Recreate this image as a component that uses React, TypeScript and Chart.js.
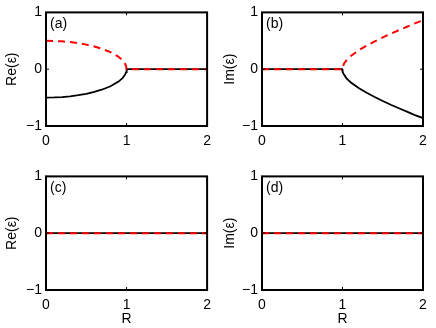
import React, { useEffect, useRef } from 'react';
import { Chart, registerables } from 'chart.js';

Chart.register(...registerables);
Chart.defaults.font.family = '"Liberation Sans", Arial, Helvetica, sans-serif';
Chart.defaults.color = '#000';

// R values below and above the exceptional point R = 1
const rLow = [0, 0.1, 0.2, 0.3, 0.4, 0.5, 0.6, 0.7, 0.8, 0.9, 0.95, 0.98, 0.995, 1.0];
const rHigh = [1.0, 1.005, 1.02, 1.05, 1.1, 1.2, 1.3, 1.4, 1.5, 1.6, 1.7, 1.8, 1.9, 2.0];
const rFlat = [0, 2];

// (a) Re(eps): branches below R = 1, zero above
const reBlackLow = [-0.5, -0.497, -0.49, -0.477, -0.458, -0.433, -0.4, -0.357, -0.3, -0.218, -0.156, -0.1, -0.05, 0];
const reRedLow = [0.5, 0.497, 0.49, 0.477, 0.458, 0.433, 0.4, 0.357, 0.3, 0.218, 0.156, 0.1, 0.05, 0];
const reHighZero = [0, 0, 0, 0, 0, 0, 0, 0, 0, 0, 0, 0, 0, 0];

// (b) Im(eps): zero below R = 1, branches above
const imLowZero = [0, 0, 0, 0, 0, 0, 0, 0, 0, 0, 0, 0, 0, 0];
const imBlackHigh = [0, -0.05, -0.1, -0.16, -0.229, -0.332, -0.415, -0.49, -0.559, -0.625, -0.687, -0.748, -0.808, -0.86];
const imRedHigh = [0, 0.05, 0.1, 0.16, 0.229, 0.332, 0.415, 0.49, 0.559, 0.625, 0.687, 0.748, 0.808, 0.86];

// (c), (d): flat zero lines
const flatBlack = [0, 0];
const flatRed = [0, 0];

const xTicks = [0, 1, 2];
const yTicks = [-1, 0, 1];
const yTickLabels = ['\u22121', '0', '1'];

const pts = (xs: number[], ys: number[]) => xs.map((x, i) => ({ x, y: ys[i] }));

const framePlugin = {
  id: 'frame',
  afterDatasetsDraw(chart: any, _args: any, opts: any) {
    const { ctx, chartArea } = chart;
    const { left, right, top, bottom } = chartArea;
    const xs = chart.scales.x;
    const ys = chart.scales.y;
    ctx.save();
    ctx.strokeStyle = '#000';
    ctx.lineWidth = 2;
    ctx.strokeRect(left, top, right - left, bottom - top);
    ctx.lineWidth = 1;
    const tl = 3;
    ctx.beginPath();
    for (const v of xTicks) {
      const p = xs.getPixelForValue(v);
      ctx.moveTo(p, bottom);
      ctx.lineTo(p, bottom - tl);
      ctx.moveTo(p, top);
      ctx.lineTo(p, top + tl);
    }
    for (const v of yTicks) {
      const p = ys.getPixelForValue(v);
      ctx.moveTo(left, p);
      ctx.lineTo(left + tl, p);
      ctx.moveTo(right, p);
      ctx.lineTo(right - tl, p);
    }
    ctx.stroke();
    ctx.fillStyle = '#000';
    ctx.font = '14px "Liberation Sans", Arial, sans-serif';
    ctx.textBaseline = 'middle';
    ctx.textAlign = 'left';
    ctx.fillText(opts.label, left + 4, top + 12);
    ctx.restore();
  },
};

type PanelProps = {
  label: string;
  yTitle: string;
  showR: boolean;
  red: { x: number; y: number }[];
  black: { x: number; y: number }[];
  yW: number;
  padRight: number;
  padTop: number;
  xH: number;
};

function Panel(p: PanelProps) {
  const ref = useRef<HTMLCanvasElement>(null);
  useEffect(() => {
    if (!ref.current) return;
    const chart = new Chart(ref.current, {
      type: 'scatter',
      data: {
        datasets: [
          {
            data: p.red,
            showLine: true,
            borderColor: '#ff0000',
            borderWidth: 2,
            borderDash: [7, 5],
            pointRadius: 0,
            fill: false,
          },
          {
            data: p.black,
            showLine: true,
            borderColor: '#000000',
            borderWidth: 1.8,
            pointRadius: 0,
            fill: false,
          },
        ],
      },
      options: {
        responsive: false,
        animation: false,
        layout: { padding: { top: p.padTop, right: p.padRight, bottom: 0, left: 0 } },
        plugins: {
          legend: { display: false },
          tooltip: { enabled: false },
          frame: { label: p.label },
        } as any,
        scales: {
          x: {
            type: 'linear',
            min: 0,
            max: 2,
            grid: { display: false, drawTicks: false },
            border: { display: false },
            ticks: {
              stepSize: 1,
              padding: 7,
              font: { size: 14 },
              color: '#000',
              callback: (v: any) => String(v),
            },
            title: {
              display: p.showR,
              text: 'R',
              font: { size: 14 },
              color: '#000',
              padding: { top: 0, bottom: 0 },
            },
            afterFit: (s: any) => {
              s.height = p.xH;
            },
          },
          y: {
            type: 'linear',
            min: -1,
            max: 1,
            grid: { display: false, drawTicks: false },
            border: { display: false },
            ticks: {
              stepSize: 1,
              padding: 4,
              font: { size: 14 },
              color: '#000',
              callback: (v: any) => yTickLabels[yTicks.indexOf(Number(v))] ?? String(v),
            },
            title: {
              display: true,
              text: p.yTitle,
              font: { size: 14 },
              color: '#000',
              padding: { top: 4, bottom: 0 },
            },
            afterFit: (s: any) => {
              s.width = p.yW;
            },
          },
        },
      },
      plugins: [framePlugin],
    });
    return () => chart.destroy();
  }, []);
  return <canvas ref={ref} width={218} height={164} style={{ display: 'block', width: 218, height: 164 }} />;
}

export default function App() {
  const aRed = [...pts(rLow, reRedLow), ...pts(rHigh, reHighZero)];
  const aBlack = [...pts(rLow, reBlackLow), ...pts(rHigh, reHighZero)];
  const bRed = [...pts(rLow, imLowZero), ...pts(rHigh, imRedHigh)];
  const bBlack = [...pts(rLow, imLowZero), ...pts(rHigh, imBlackHigh)];
  const cRed = pts(rFlat, flatRed);
  const cBlack = pts(rFlat, flatBlack);
  const cell = (left: number, top: number): React.CSSProperties => ({
    position: 'absolute',
    left,
    top,
    width: 218,
    height: 164,
  });
  return (
    <div style={{ position: 'fixed', left: 0, top: 0, width: 436, height: 328, background: '#fff' }}>
      <div style={cell(0, 0)}>
        <Panel label="(a)" yTitle="Re(ε)" showR={false} red={aRed} black={aBlack} yW={46} padRight={10} padTop={8} xH={38} />
      </div>
      <div style={cell(218, 0)}>
        <Panel label="(b)" yTitle="Im(ε)" showR={false} red={bRed} black={bBlack} yW={44} padRight={13} padTop={8} xH={38} />
      </div>
      <div style={cell(0, 164)}>
        <Panel label="(c)" yTitle="Re(ε)" showR={true} red={cRed} black={cBlack} yW={46} padRight={10} padTop={7} xH={38} />
      </div>
      <div style={cell(218, 164)}>
        <Panel label="(d)" yTitle="Im(ε)" showR={true} red={cRed} black={cBlack} yW={44} padRight={13} padTop={7} xH={38} />
      </div>
    </div>
  );
}
